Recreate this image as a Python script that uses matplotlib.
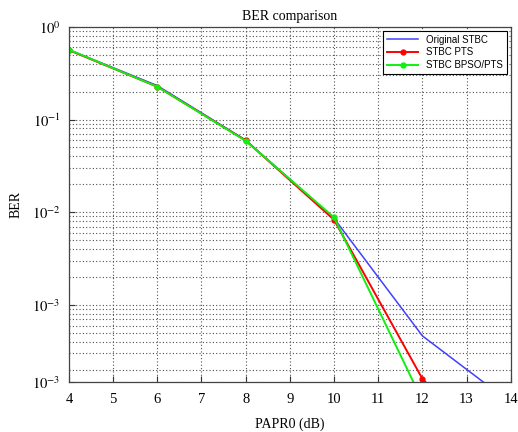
import matplotlib
matplotlib.use("Agg")
import matplotlib.pyplot as plt
from matplotlib.ticker import FixedLocator, FixedFormatter, LogLocator, NullFormatter

plt.rcParams['font.family'] = ['Liberation Serif', 'DejaVu Serif']
plt.rcParams['mathtext.fontset'] = 'stix'

# Data
papr = [4, 6, 8, 10, 12, 14]
ber_original = [0.566, 0.232, 0.0600, 0.0086, 4.64e-4, 8.8e-5]
ber_pts = [0.560, 0.226, 0.0594, 0.0083, 1.6e-4, 1.5e-5]
ber_bpso = [0.566, 0.226, 0.0590, 0.0088, 9.3e-5, 1.0e-5]

series_labels = ['Original STBC', 'STBC PTS', 'STBC BPSO/PTS']
x_ticks = [4, 5, 6, 7, 8, 9, 10, 11, 12, 13, 14]
y_ticks = [1.0, 0.1, 0.01, 0.001, 1.48e-4]
y_tick_labels = ['$10^{0}$', '$10^{-1}$', '$10^{-2}$', '$10^{-3}$', '$10^{-3}$']

fig = plt.figure(figsize=(5.18, 4.32), dpi=100)
ax = fig.add_axes([0.133, 0.116, 0.853, 0.822])

ax.semilogy(papr, ber_original, '-', color='#4040ff', lw=1.1, label=series_labels[0])
ax.semilogy(papr, ber_pts, '-', color='#ff0000', lw=1.4, marker='o', ms=3.5,
            label=series_labels[1])
ax.semilogy(papr, ber_bpso, '-', color='#10f010', lw=1.4, marker='o', ms=3.5,
            label=series_labels[2])

ax.set_xlim(4, 14)
ax.set_ylim(1.48e-4, 1.0)
ax.xaxis.set_major_locator(FixedLocator(x_ticks))
ax.yaxis.set_major_locator(FixedLocator(y_ticks))
ax.yaxis.set_major_formatter(FixedFormatter(y_tick_labels))
ax.yaxis.set_minor_locator(LogLocator(base=10, subs=range(2, 10)))
ax.yaxis.set_minor_formatter(NullFormatter())

ax.grid(True, which='major', axis='both', linestyle=(0, (1.0, 2.0)), color='#505050', lw=0.8)
ax.grid(True, which='minor', axis='y', linestyle=(0, (1.0, 2.0)), color='#505050', lw=0.8)

ax.tick_params(which='both', direction='in', labelsize=10.5, color='#333333')
ax.tick_params(axis='x', pad=8)
ax.tick_params(axis='y', pad=6)
ax.tick_params(which='minor', length=0)
ax.tick_params(which='major', length=4)
for s in ax.spines.values():
    s.set_color('#444444')
    s.set_linewidth(0.9)

ax.set_title('BER comparison', fontsize=10, pad=5)
ax.set_xlabel('PAPR0 (dB)', fontsize=10, labelpad=8)
ax.set_ylabel('BER', fontsize=10, labelpad=14)

leg = ax.legend(loc='upper right', prop={'family': 'Liberation Sans', 'size': 7},
                fancybox=False, framealpha=1, edgecolor='black',
                borderaxespad=0.4, handlelength=3.2, labelspacing=0.3,
                borderpad=0.4)
leg.get_frame().set_linewidth(0.8)
ax.yaxis.set_label_coords(-0.105, 0.5)

fig.savefig('out.png', dpi=100)
